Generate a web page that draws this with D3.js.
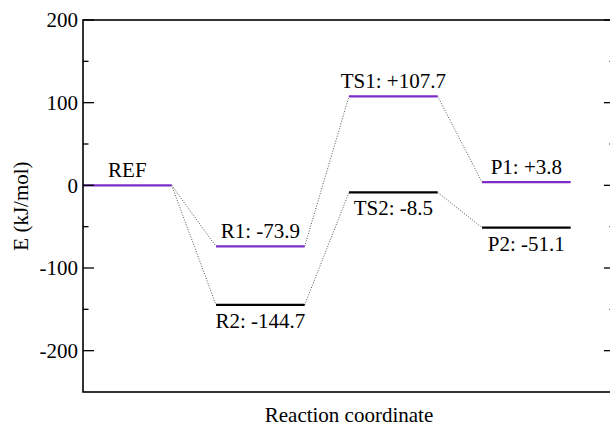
<!DOCTYPE html>
<html>
<head>
<meta charset="utf-8">
<script src="https://cdn.jsdelivr.net/npm/d3@7"></script>
<style>
html,body{margin:0;padding:0;background:#fff;}
svg{display:block;}
</style>
</head>
<body>
<svg id="chart" width="610" height="428" font-family="'Liberation Serif', 'Times New Roman', Times, serif"></svg>
<script>
// ---- data ----
const stageIndex = [0, 1, 2, 3];
const path1Names = ["REF", "R1", "TS1", "P1"];
const path1Values = [0, -73.9, 107.7, 3.8];
const path2Names = ["REF", "R2", "TS2", "P2"];
const path2Values = [0, -144.7, -8.5, -51.1];
const yTicks = [200, 100, 0, -100, -200];
const yMinorTicks = [150, 50, -50, -150];
const xLabel = "Reaction coordinate";
const yLabel = "E (kJ/mol)";

(function () {
  const mLeft = 83, mRight = 615, mTop = 20, mBottom = 392;
  const levelWidth = 2 / 3;
  const purple = "#7d2ec6";
  const fs = 21;

  const svg = d3.select("#chart");
  const x = d3.scaleLinear().domain([0, 4]).range([mLeft, mRight]);
  const y = d3.scaleLinear().domain([-250, 200]).range([mBottom, mTop]);

  const fmt = v => (v > 0 ? "+" : "") + v.toFixed(1);

  function connectors(vals) {
    const segs = [];
    for (let i = 0; i < vals.length - 1; i++) {
      segs.push([[stageIndex[i] + levelWidth, vals[i]], [stageIndex[i + 1], vals[i + 1]]]);
    }
    svg.append("g").selectAll("line").data(segs).join("line")
      .attr("x1", d => x(d[0][0])).attr("y1", d => y(d[0][1]))
      .attr("x2", d => x(d[1][0])).attr("y2", d => y(d[1][1]))
      .attr("stroke", "#555").attr("stroke-width", 1)
      .attr("stroke-dasharray", "1,1.6");
  }
  connectors(path2Values);
  connectors(path1Values);

  const lv2 = path2Values.map((v, i) => ({ i, v })).filter(d => d.i > 0);
  const lv1 = path1Values.map((v, i) => ({ i, v }));
  svg.append("g").selectAll("line").data(lv2).join("line")
    .attr("x1", d => x(stageIndex[d.i])).attr("x2", d => x(stageIndex[d.i] + levelWidth))
    .attr("y1", d => y(d.v)).attr("y2", d => y(d.v))
    .attr("stroke", "#000").attr("stroke-width", 2.2);
  svg.append("g").selectAll("line").data(lv1).join("line")
    .attr("x1", d => x(stageIndex[d.i])).attr("x2", d => x(stageIndex[d.i] + levelWidth))
    .attr("y1", d => y(d.v)).attr("y2", d => y(d.v))
    .attr("stroke", purple).attr("stroke-width", 2.2);

  const lab = svg.append("g").attr("font-size", fs).attr("text-anchor", "middle");
  lab.selectAll("text.l1").data(lv1).join("text").attr("class", "l1")
    .attr("x", d => x(stageIndex[d.i] + levelWidth / 2))
    .attr("y", d => y(d.v) - 8)
    .text(d => d.i === 0 ? path1Names[d.i] : path1Names[d.i] + ": " + fmt(d.v));
  lab.selectAll("text.l2").data(lv2).join("text").attr("class", "l2")
    .attr("x", d => x(stageIndex[d.i] + levelWidth / 2))
    .attr("y", d => y(d.v) + 23)
    .text(d => path2Names[d.i] + ": " + fmt(d.v));

  svg.append("rect").attr("x", mLeft).attr("y", mTop)
    .attr("width", mRight - mLeft).attr("height", mBottom - mTop)
    .attr("fill", "none").attr("stroke", "#000").attr("stroke-width", 1.6);

  const tk = svg.append("g").attr("stroke", "#000").attr("stroke-width", 1.3);
  tk.selectAll("line.ml").data(yTicks).join("line").attr("class", "ml")
    .attr("x1", mLeft).attr("x2", mLeft + 11).attr("y1", d => y(d)).attr("y2", d => y(d));
  tk.selectAll("line.nl").data(yMinorTicks).join("line").attr("class", "nl")
    .attr("x1", mLeft).attr("x2", mLeft + 5.5).attr("y1", d => y(d)).attr("y2", d => y(d));
  tk.selectAll("line.mr").data(yTicks).join("line").attr("class", "mr")
    .attr("x1", mRight).attr("x2", mRight - 11).attr("y1", d => y(d)).attr("y2", d => y(d));
  tk.selectAll("line.nr").data(yMinorTicks).join("line").attr("class", "nr")
    .attr("x1", mRight).attr("x2", mRight - 5.5).attr("y1", d => y(d)).attr("y2", d => y(d));

  svg.append("g").attr("font-size", fs).attr("text-anchor", "end")
    .selectAll("text").data(yTicks).join("text")
    .attr("x", mLeft - 5).attr("y", d => y(d)).attr("dy", "0.35em")
    .text(d => d);

  svg.append("text").attr("font-size", fs).attr("text-anchor", "middle")
    .attr("x", (mLeft + mRight) / 2).attr("y", 422).text(xLabel);
  svg.append("text").attr("font-size", fs).attr("text-anchor", "middle")
    .attr("transform", `translate(28,${(mTop + mBottom) / 2}) rotate(-90)`).text(yLabel);
})();
</script>
</body>
</html>
